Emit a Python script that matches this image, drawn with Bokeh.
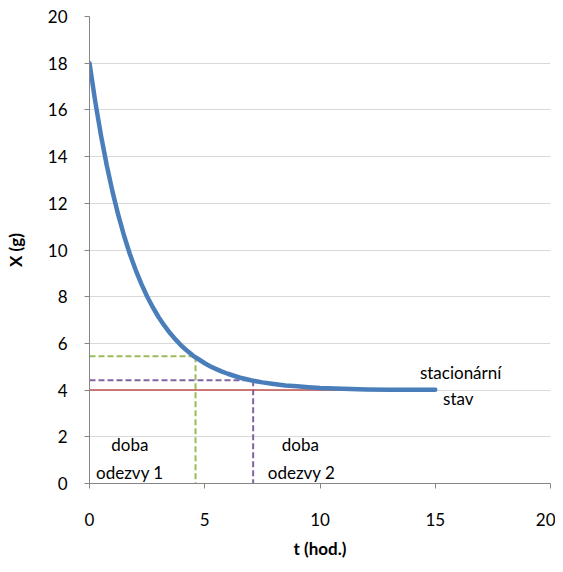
from bokeh.plotting import figure
from bokeh.models import Range1d, Label, FixedTicker
from bokeh.embed import file_html
from bokeh.resources import INLINE

# Curve: X (g) vs t (hod.)
t_vals = [0, 0.25, 0.5, 0.75, 1, 1.25, 1.5, 1.75, 2, 2.25, 2.5, 2.75, 3, 3.25, 3.5, 3.75,
          4, 4.25, 4.5, 4.75, 5, 5.25, 5.5, 5.75, 6, 6.5, 7, 7.5, 8, 8.5, 9, 9.5, 10, 11, 12, 13, 14, 15]
x_vals = [18.0, 16.35, 14.9, 13.62, 12.49, 11.49, 10.61, 9.83, 9.15, 8.55, 8.01, 7.54, 7.12, 6.76, 6.43, 6.15,
          5.89, 5.67, 5.47, 5.31, 5.15, 5.01, 4.9, 4.79, 4.7, 4.54, 4.42, 4.33, 4.26, 4.2, 4.16, 4.12, 4.09, 4.06, 4.03, 4.02, 4.01, 4.01]

# Steady state line
steady_t = [0, 15]
steady_x = [4, 4]

# Response times
resp1_t = 4.6
resp1_x = 5.45
resp2_t = 7.1
resp2_x = 4.42

x_ticks = [0, 5, 10, 15, 20]
y_ticks = [0, 2, 4, 6, 8, 10, 12, 14, 16, 18, 20]

FONT = "Lato"
AX = "#868686"

p = figure(width=555, height=564, output_backend="svg", toolbar_location=None,
           x_range=Range1d(0, 20), y_range=Range1d(0, 20),
           min_border_left=89, min_border_right=5, min_border_top=16, min_border_bottom=81)
p.outline_line_color = None
p.background_fill_color = "white"

p.xgrid.grid_line_color = None
p.ygrid.grid_line_color = "#D9D9D9"
p.ygrid.grid_line_width = 1
p.ygrid.ticker = FixedTicker(ticks=y_ticks)

for ax in (p.xaxis[0], p.yaxis[0]):
    ax.axis_line_color = AX
    ax.major_tick_line_color = AX
    ax.minor_tick_line_color = None
    ax.major_tick_in = 0
    ax.major_tick_out = 5
    ax.major_label_text_font = FONT
    ax.major_label_text_font_size = "17px"
    ax.major_label_text_color = "#000000"
    ax.axis_label_text_font = FONT
    ax.axis_label_text_font_size = "17px"
    ax.axis_label_text_font_style = "bold"
    ax.axis_label_text_color = "#000000"
p.xaxis[0].ticker = FixedTicker(ticks=x_ticks)
p.yaxis[0].ticker = FixedTicker(ticks=y_ticks)
p.xaxis[0].major_label_standoff = 24
p.yaxis[0].major_label_standoff = 17
p.xaxis[0].axis_label = "t (hod.)"
p.yaxis[0].axis_label = "X (g)"
p.xaxis[0].axis_label_standoff = 9
p.yaxis[0].axis_label_standoff = 19

# Dashed response-time guides
p.line([0, resp1_t], [resp1_x, resp1_x], line_color="#9BBB59", line_width=2, line_dash="6 3")
p.line([resp1_t, resp1_t], [resp1_x, 0], line_color="#9BBB59", line_width=2, line_dash="6 3")
p.line([0, resp2_t], [resp2_x, resp2_x], line_color="#8064A2", line_width=2, line_dash="6 3")
p.line([resp2_t, resp2_t], [resp2_x, 0], line_color="#8064A2", line_width=2, line_dash="6 3")

# steady state
p.line(steady_t, steady_x, line_color="#C0504D", line_width=1.5)

# main curve
p.line(t_vals, x_vals, line_color="#4A7EBB", line_width=4.5, line_join="round", line_cap="round")

def lab(x, y, text):
    p.add_layout(Label(x=x, y=y, text=text, text_font=FONT, text_font_size="17px",
                       text_align="center", text_baseline="middle",
                       text_color="#000000"))

lab(1.75, 1.65, "doba")
lab(1.75, 0.45, "odezvy 1")
lab(9.15, 1.65, "doba")
lab(9.2, 0.45, "odezvy 2")
lab(16.1, 4.75, "stacionární")
lab(16.0, 3.65, "stav")

open("out.html", "w").write(file_html(p, INLINE))
